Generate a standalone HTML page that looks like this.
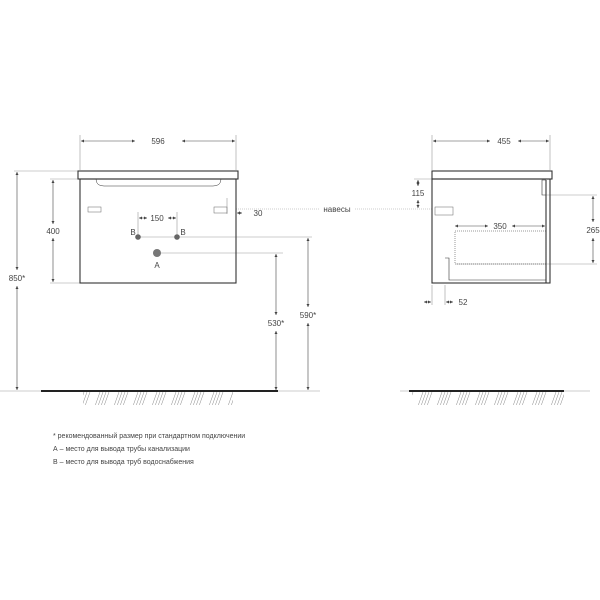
<!DOCTYPE html>
<html><head><style>body{margin:0;background:#fff}svg{display:block}text{font-family:"Liberation Sans",sans-serif;fill:#444}</style></head><body>
<svg width="600" height="600" viewBox="0 0 600 600" xmlns="http://www.w3.org/2000/svg">
<defs><marker id="a" viewBox="0 0 6 6" refX="6" refY="3" markerWidth="5" markerHeight="5" orient="auto-start-reverse"><path d="M0,0L6,3L0,6z" fill="#444"/></marker>
<pattern id="h" width="19" height="14" patternUnits="userSpaceOnUse"><path d="M5,0L0,14M8,0L3,14M11,0L6,14M14,0L9,14" stroke="#888" stroke-width="0.5"/></pattern></defs>
<g stroke="#999" stroke-width="0.6" fill="none">
<line x1="80" y1="135" x2="80" y2="170"/><line x1="236" y1="135" x2="236" y2="170"/>
<line x1="432" y1="135" x2="432" y2="170"/><line x1="550" y1="135" x2="550" y2="170"/>
<line x1="14" y1="171" x2="78" y2="171"/><line x1="50" y1="179" x2="80" y2="179"/><line x1="50" y1="283" x2="80" y2="283"/>
<line x1="140" y1="237" x2="312" y2="237"/><line x1="160" y1="253" x2="283" y2="253"/>
<line x1="0" y1="391" x2="320" y2="391"/><line x1="400" y1="391" x2="590" y2="391"/>
<line x1="138" y1="212" x2="138" y2="237"/><line x1="177" y1="212" x2="177" y2="237"/>
<line x1="227" y1="198" x2="227" y2="214"/>
<line x1="236" y1="209" x2="320" y2="209" stroke-dasharray="1,1"/><line x1="355" y1="209" x2="432" y2="209" stroke-dasharray="1,1"/>
<line x1="414" y1="179" x2="432" y2="179"/>
<line x1="546" y1="195" x2="597" y2="195"/><line x1="456" y1="264" x2="597" y2="264"/>
<line x1="432" y1="285" x2="432" y2="305"/><line x1="445" y1="285" x2="445" y2="305"/>
</g>
<g stroke="#444" stroke-width="0.6" marker-start="url(#a)" marker-end="url(#a)">
<line x1="81" y1="141" x2="135" y2="141"/><line x1="182" y1="141" x2="235" y2="141" marker-start="" />
<line x1="433" y1="141" x2="490" y2="141" marker-end=""/><line x1="518" y1="141" x2="549" y2="141" marker-start=""/>
<line x1="17" y1="172" x2="17" y2="270" marker-end=""/><line x1="17" y1="286" x2="17" y2="390" marker-start=""/>
<line x1="53" y1="180" x2="53" y2="224" marker-end=""/><line x1="53" y1="238" x2="53" y2="282" marker-start=""/>
<line x1="276" y1="254" x2="276" y2="315" marker-end=""/><line x1="276" y1="331" x2="276" y2="390" marker-start=""/>
<line x1="308" y1="238" x2="308" y2="307" marker-end=""/><line x1="308" y1="323" x2="308" y2="390" marker-start=""/>
<line x1="139" y1="218" x2="147" y2="218" marker-start="" marker-end=""/><line x1="168" y1="218" x2="176" y2="218" marker-start="" marker-end=""/>
<line x1="418" y1="180" x2="418" y2="186" marker-end=""/><line x1="418" y1="200" x2="418" y2="208" marker-start=""/>
<line x1="593" y1="196" x2="593" y2="222" marker-end=""/><line x1="593" y1="238" x2="593" y2="263" marker-start=""/>
<line x1="455" y1="226" x2="488" y2="226" marker-end=""/><line x1="512" y1="226" x2="545" y2="226" marker-start=""/>
<line x1="424" y1="302" x2="431" y2="302" marker-start=""/><line x1="453" y1="302" x2="446" y2="302" marker-start=""/>
<line x1="242" y1="213" x2="237" y2="213" marker-start=""/>
</g>
<g stroke="#333" stroke-width="1.1" fill="none">
<rect x="78" y="171" width="160" height="8"/><rect x="80" y="179" width="156" height="104"/>
<path d="M96,179 q0,7 8,7 h109 q8,0 8,-7" stroke-width="0.5"/>
<rect x="432" y="171" width="120" height="8"/><rect x="432" y="179" width="118" height="104"/>
<line x1="546" y1="180" x2="546" y2="283"/>
<path d="M546,180 h-4 v15 h4" stroke-width="0.6"/>
<rect x="455" y="231" width="91" height="33" stroke-width="0.5" stroke-dasharray="1,1"/>
<path d="M445,258 h4 v22 h97" stroke-width="0.6"/>
</g>
<rect x="88" y="207" width="13" height="5" fill="none" stroke="#666" stroke-width="0.5"/>
<rect x="214" y="207" width="13" height="6" fill="none" stroke="#666" stroke-width="0.5"/>
<rect x="435" y="207" width="18" height="8" fill="none" stroke="#666" stroke-width="0.5"/>
<line x1="41" y1="391" x2="278" y2="391" stroke="#222" stroke-width="2"/>
<line x1="409" y1="391" x2="564" y2="391" stroke="#222" stroke-width="2"/>
<rect x="83" y="392" width="150" height="13" fill="url(#h)"/>
<rect x="412" y="392" width="152" height="13" fill="url(#h)"/>
<circle cx="138" cy="237" r="2.8" fill="#666"/><circle cx="177" cy="237" r="2.8" fill="#666"/>
<circle cx="157" cy="253" r="4" fill="#777"/>
<g font-size="8" text-anchor="middle">
<text x="158" y="144">596</text><text x="504" y="144">455</text>
<text x="17" y="281">850*</text><text x="53" y="234">400</text>
<text x="276" y="326">530*</text><text x="308" y="318">590*</text>
<text x="157" y="221">150</text><text x="258" y="216">30</text>
<text x="133" y="235">B</text><text x="183" y="235">B</text><text x="157" y="268">A</text>
<text x="337" y="212">навесы</text><text x="418" y="196">115</text>
<text x="593" y="233">265</text><text x="500" y="229">350</text><text x="463" y="305">52</text>
</g>
<g font-size="7">
<text x="53" y="438">* рекомендованный размер при стандартном подключении</text>
<text x="53" y="451">А – место для вывода трубы канализации</text>
<text x="53" y="464">В – место для вывода труб водоснабжения</text>
</g>
</svg>
</body></html>
